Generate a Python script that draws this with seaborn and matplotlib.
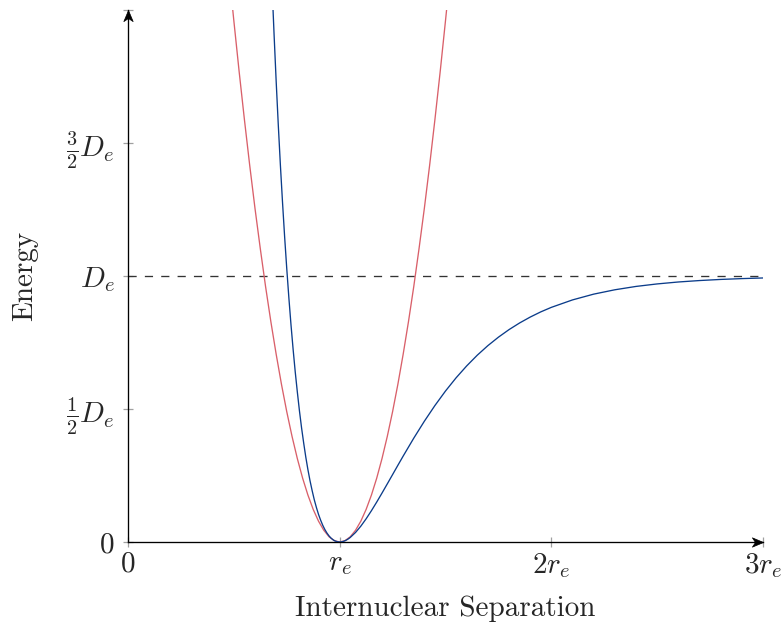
import matplotlib
matplotlib.use("Agg")
import matplotlib.pyplot as plt
from matplotlib.path import Path
import seaborn as sns
import pandas as pd

# Morse potential curve (x in units of r_e, y in units of D_e)
morse_x = [0.68, 0.69, 0.70, 0.71, 0.72, 0.73, 0.74, 0.75, 0.76, 0.77, 0.78, 0.79,
           0.80, 0.81, 0.82, 0.83, 0.84, 0.85, 0.86, 0.87, 0.88, 0.89, 0.90, 0.91,
           0.92, 0.93, 0.94, 0.95, 0.96, 0.97, 0.98, 0.99, 1.00, 1.01, 1.02, 1.03,
           1.04, 1.05, 1.075, 1.10, 1.125, 1.15, 1.175, 1.20, 1.225, 1.25, 1.275, 1.30,
           1.35, 1.40, 1.45, 1.50, 1.55, 1.60, 1.65, 1.70, 1.75, 1.80, 1.85, 1.90,
           1.95, 2.00, 2.10, 2.20, 2.30, 2.40, 2.50, 2.60, 2.70, 2.80, 2.90, 3.00]
morse_y = [2.10, 1.910, 1.732, 1.568, 1.416, 1.277, 1.147, 1.028, 0.918, 0.817, 0.725, 0.640,
           0.564, 0.493, 0.429, 0.372, 0.319, 0.272, 0.230, 0.193, 0.159, 0.130, 0.104, 0.0822,
           0.063, 0.0469, 0.0335, 0.0226, 0.014, 0.00767, 0.0033, 0.00081, 0.0, 0.00076, 0.00297, 0.0065,
           0.01124, 0.0171, 0.0359, 0.0596, 0.0872, 0.1176, 0.1501, 0.1839, 0.2185, 0.2534, 0.2884, 0.3230,
           0.3903, 0.4539, 0.5131, 0.5676, 0.6172, 0.6619, 0.7022, 0.7381, 0.7700, 0.7984, 0.8234, 0.8455,
           0.8651, 0.8821, 0.9101, 0.9318, 0.9482, 0.9608, 0.9702, 0.9775, 0.9829, 0.9871, 0.9902, 0.9926]

# Harmonic approximation curve
harm_x = [0.49, 0.50, 0.525, 0.55, 0.575, 0.60, 0.625, 0.65, 0.675, 0.70, 0.725, 0.75,
          0.775, 0.80, 0.825, 0.85, 0.875, 0.90, 0.925, 0.95, 0.975, 1.00,
          1.025, 1.05, 1.075, 1.10, 1.125, 1.15, 1.175, 1.20, 1.225, 1.25, 1.275,
          1.30, 1.325, 1.35, 1.375, 1.40, 1.425, 1.45, 1.475, 1.50, 1.51]
harm_y = [2.039, 1.96, 1.769, 1.588, 1.416, 1.254, 1.103, 0.960, 0.828, 0.706, 0.593, 0.490,
          0.397, 0.3136, 0.240, 0.1764, 0.1225, 0.0784, 0.0441, 0.0196, 0.0049, 0.0,
          0.0049, 0.0196, 0.0441, 0.0784, 0.1225, 0.1764, 0.240, 0.3136, 0.397, 0.490, 0.593,
          0.706, 0.828, 0.960, 1.103, 1.254, 1.416, 1.588, 1.769, 1.96, 2.039]

dissociation = 1.0

x_ticks = [0, 1, 2, 3]
x_labels = [r"$0$", r"$r_e$", r"$2r_e$", r"$3r_e$"]
y_ticks = [0, 0.5, 1.0, 1.5, 2.0]
y_labels = [r"$0$", r"$\frac{1}{2}D_e$", r"$D_e$", r"$\frac{3}{2}D_e$", ""]

sns.set_theme(style="white")
plt.rcParams["font.family"] = ["cmr10", "DejaVu Serif"]
plt.rcParams["mathtext.fontset"] = "cm"
plt.rcParams["axes.formatter.use_mathtext"] = True

fig = plt.figure(figsize=(7.84, 6.32), dpi=100)
ax = fig.add_axes([128 / 784, 1 - 542 / 632, (763 - 128) / 784, (542 - 10) / 632])

blue = "#0b3c8a"
red = "#d9606a"

df_h = pd.DataFrame({"x": harm_x, "y": harm_y})
df_m = pd.DataFrame({"x": morse_x, "y": morse_y})

ax.axhline(dissociation, color="#333333", lw=0.95, dashes=(6.2, 6.2), zorder=1)
sns.lineplot(data=df_h, x="x", y="y", ax=ax, sort=False, estimator=None,
             color=red, lw=0.95, zorder=2)
sns.lineplot(data=df_m, x="x", y="y", ax=ax, sort=False, estimator=None,
             color=blue, lw=0.95, zorder=3)

ax.set_xlim(0, 3)
ax.set_ylim(0, 2)

for s in ["top", "right"]:
    ax.spines[s].set_visible(False)
for s in ["left", "bottom"]:
    ax.spines[s].set_color("black")
    ax.spines[s].set_linewidth(0.95)

# stealth-like arrow heads at axis ends
right_tip = Path([(0, 0), (-1, 0.42), (-0.72, 0), (-1, -0.42), (0, 0)],
                 [Path.MOVETO, Path.LINETO, Path.LINETO, Path.LINETO, Path.CLOSEPOLY])
up_tip = Path([(0, 0), (0.42, -1), (0, -0.72), (-0.42, -1), (0, 0)],
              [Path.MOVETO, Path.LINETO, Path.LINETO, Path.LINETO, Path.CLOSEPOLY])
ax.plot([1.0], [0.0], marker=right_tip, markersize=16, color="black", mew=0.5,
        transform=ax.transAxes, clip_on=False, zorder=5)
ax.plot([0.0], [1.0], marker=up_tip, markersize=16, color="black", mew=0.5,
        transform=ax.transAxes, clip_on=False, zorder=5)

ax.set_xticks(x_ticks)
ax.set_xticklabels(x_labels)
ax.set_yticks(y_ticks)
ax.set_yticklabels(y_labels)
ax.tick_params(axis="both", direction="inout", length=7, width=0.9, color="#a0a0a0",
               labelsize=21, bottom=True, left=True)
ax.tick_params(axis="x", pad=3)
ax.tick_params(axis="y", pad=6)

ax.set_xlabel("Internuclear Separation", fontsize=21)
ax.set_ylabel("Energy", fontsize=21)
ax.xaxis.set_label_coords(0.5, -0.101)
ax.yaxis.set_label_coords(-0.142, 0.5)
ax.grid(False)

fig.savefig("out.png", dpi=100)
